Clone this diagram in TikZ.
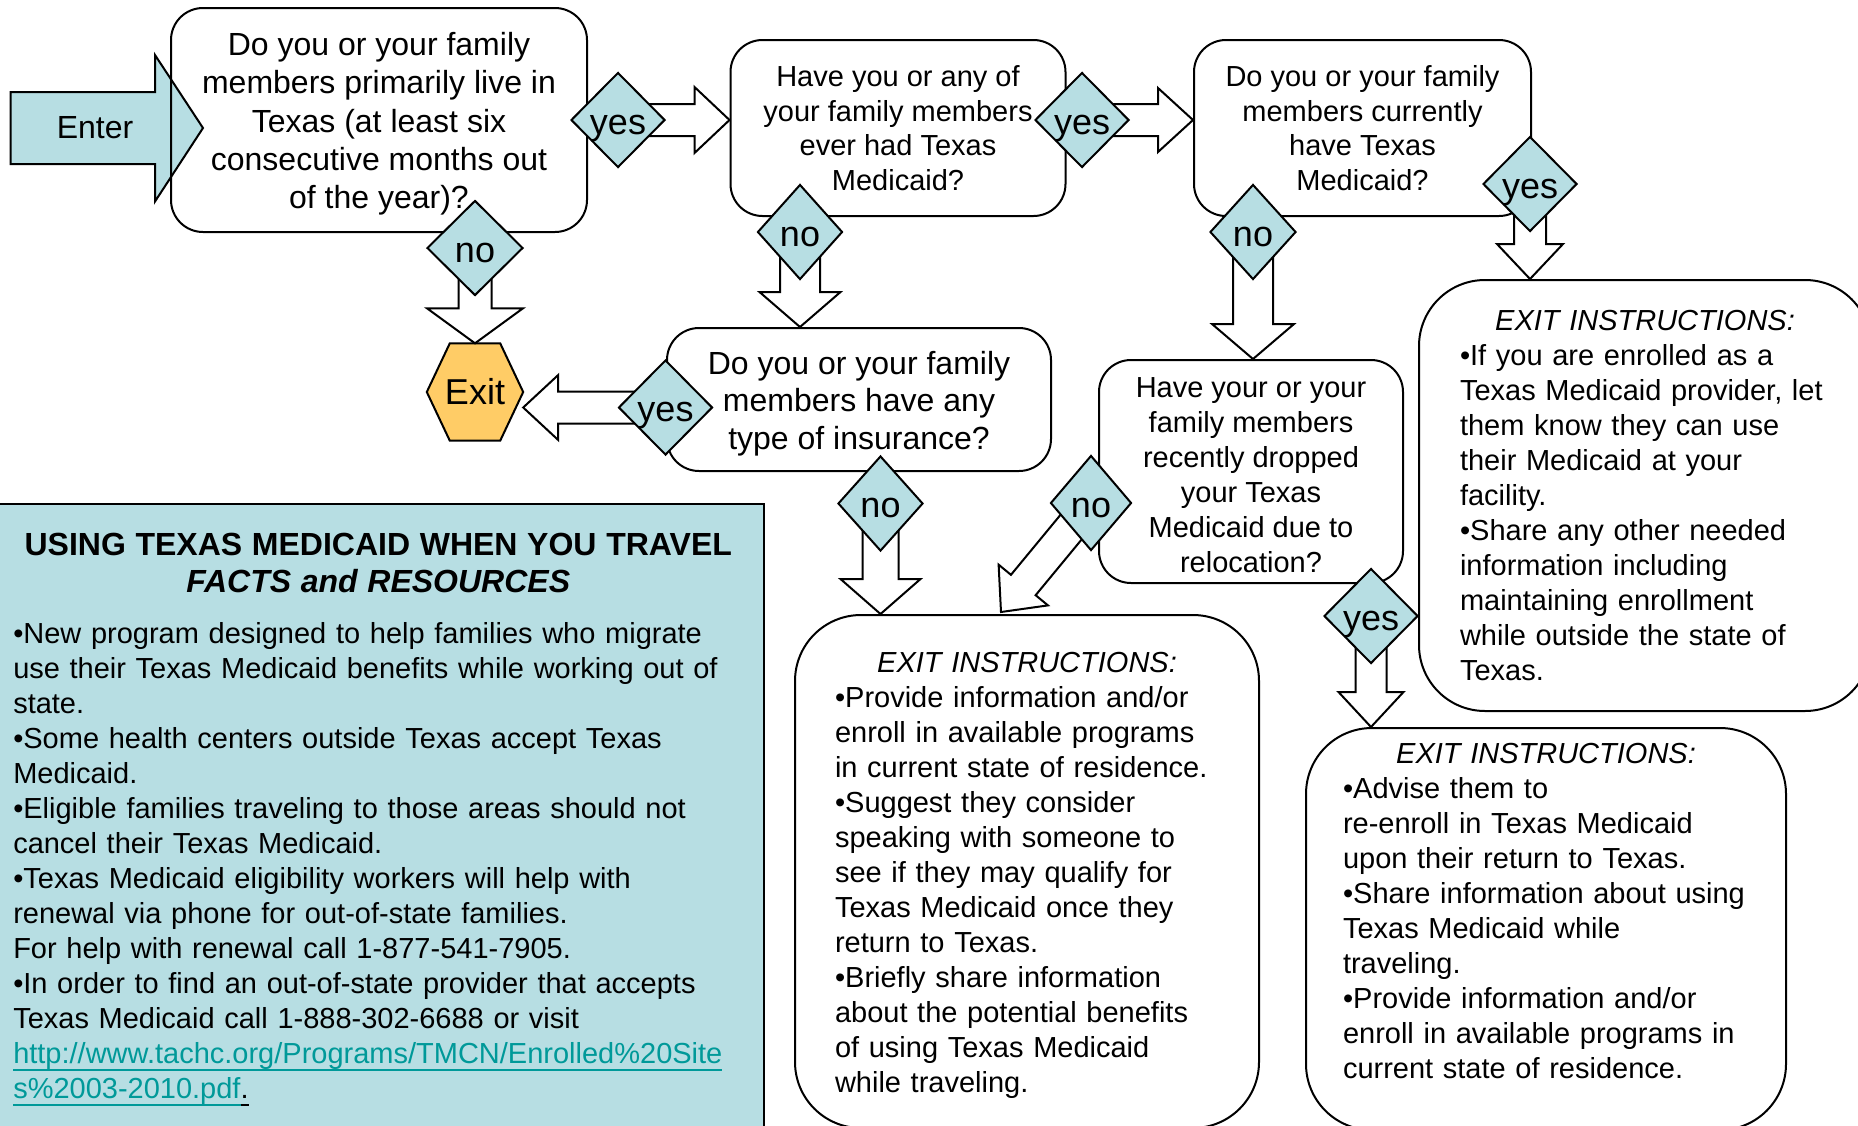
\documentclass[tikz,border=0pt]{standalone}
\usepackage{fontspec}
\setmainfont{Liberation Sans}
\usepackage{xcolor}
\definecolor{Aqua}{RGB}{183,222,227}
\definecolor{Gold}{RGB}{255,204,102}
\definecolor{Link}{RGB}{0,153,153}
\usepackage{tikz}
\usetikzlibrary{shapes.geometric}
\usetikzlibrary{calc}
\pgfdeclarelayer{back}
\pgfsetlayers{back,main}
\newcommand{\LinkLine}[1]{\leavevmode\setbox0=\hbox{#1}\rlap{\rule[-8pt]{\wd0}{2pt}}\box0}
\tikzstyle{Box}=[draw=black,line width=2pt,rounded corners=32pt,align=center,inner sep=0pt]
\tikzstyle{ExitBox}=[draw=black,line width=2pt,rounded corners=66pt,align=left,inner sep=0pt,
font=\fontsize{29}{35}\selectfont]
\tikzstyle{Facts}=[draw=black,line width=2pt,fill=Aqua,align=left,inner sep=0pt,
font=\fontsize{29}{35}\selectfont]
\tikzstyle{Choice}=[diamond,draw=black,line width=2pt,fill=Aqua,inner sep=0pt,
minimum width=94pt,minimum height=95pt,text height=31pt,text depth=3pt,
font=\fontsize{36}{40}\selectfont]
\tikzstyle{Edge}=[draw=black,line width=2pt,fill=white]
% block arrow: tail, tip, half shaft, half head
\newcommand{\BlockArrow}[4]{%
  \coordinate(hb)at($(#2)!35pt!(#1)$);
  \path[Edge]($(#1)!#3!90:(#2)$)--($(hb)!#3!-90:(#1)$)--($(hb)!#4!-90:(#1)$)--(#2)
    --($(hb)!#4!90:(#1)$)--($(hb)!#3!90:(#1)$)--($(#1)!#3!-90:(#2)$)--cycle;}
\begin{document}
\begin{tikzpicture}[x=1pt,y=-1pt]
        \useasboundingbox(0,0)rectangle(1858,1125);
        \clip(0,0)rectangle(1858,1125);
        \node[Facts,minimum width=771pt,minimum height=631.6pt,text width=730pt](facts)at(378.25,819.8){%
\makebox[\hsize]{\fontsize{32}{37.5}\selectfont\bfseries USING TEXAS MEDICAID WHEN YOU TRAVEL}\\[2.3pt]
\makebox[\hsize]{\fontsize{32}{37.5}\selectfont\bfseries\itshape FACTS and RESOURCES}\\[15.4pt]
•New program designed to help families who migrate\\
use their Texas Medicaid benefits while working out of\\
state.\\
•Some health centers outside Texas accept Texas\\
Medicaid.\\
•Eligible families traveling to those areas should not\\
cancel their Texas Medicaid.\\
•Texas Medicaid eligibility workers will help with\\
renewal via phone for out-of-state families.\\
For help with renewal call 1-877-541-7905.\\
•In order to find an out-of-state provider that accepts\\
Texas Medicaid call 1-888-302-6688 or visit\\
\textcolor{Link}{\LinkLine{http://www.tachc.org/Programs/TMCN/Enrolled\%20Site}}\\
\textcolor{Link}{\LinkLine{s\%2003-2010.pdf}}\LinkLine{.}};
        % entry arrow
        \draw[line width=2pt,fill=Aqua](10.5,92)--(155,92)--(155,55)--(203,128)--(155,201.5)--(155,164)--(10.5,164)--cycle;
        \node[font=\fontsize{32}{38}\selectfont,inner sep=0pt](enter)at(95,128){Enter};
        % questions
        \node[Box,minimum width=416pt,minimum height=224pt,font=\fontsize{32}{38.3}\selectfont](live)at(379,120){\rule{0pt}{31pt}Do you or your family\\members primarily live in\\Texas (at least six\\consecutive months out\\of the year)?};
        \node[Box,minimum width=335pt,minimum height=176pt,font=\fontsize{29}{34.6}\selectfont](hadmed)at(898,128){Have you or any of\\your family members\\ever had Texas\\Medicaid?};
        \node[Box,minimum width=337pt,minimum height=176pt,font=\fontsize{29}{34.6}\selectfont](hasmed)at(1362.5,128){Do you or your family\\members currently\\have Texas\\Medicaid?};
        \node[Box,minimum width=384pt,minimum height=143pt,font=\fontsize{32}{37.5}\selectfont](insured)at(859,399.5){\rule{0pt}{31pt}Do you or your family\\members have any\\type of insurance?};
        \node[Box,minimum width=304pt,minimum height=223pt,font=\fontsize{29}{35}\selectfont](dropped)at(1251,471.5){\rule{0pt}{27pt}Have your or your\\family members\\recently dropped\\your Texas\\Medicaid due to\\relocation?};
        % exit instructions
        \node[ExitBox,minimum width=464pt,minimum height=513pt,text width=384pt](otherstate)at(1027,871.5){\makebox[\hsize]{\rule{0pt}{27pt}\textit{EXIT INSTRUCTIONS:}}\\•Provide information and/or\\enroll in available programs\\in current state of residence.\\•Suggest they consider\\speaking with someone to\\see if they may qualify for\\Texas Medicaid once they\\return to Texas.\\•Briefly share information\\about the potential benefits\\of using Texas Medicaid\\while traveling.};
        \node[ExitBox,minimum width=452pt,minimum height=431pt,text width=370pt](provider)at(1645,495.5){\makebox[\hsize]{\textit{EXIT INSTRUCTIONS:}}\\•If you are enrolled as a\\Texas Medicaid provider, let\\them know they can use\\their Medicaid at your\\facility.\\•Share any other needed\\information including\\maintaining enrollment\\while outside the state of\\Texas.};
        \node[ExitBox,minimum width=480pt,minimum height=402pt,text width=406pt](reenroll)at(1546,929){\makebox[\hsize]{\textit{EXIT INSTRUCTIONS:}}\\•Advise them to\\re-enroll in Texas Medicaid\\upon their return to Texas.\\•Share information about using\\Texas Medicaid while\\traveling.\\•Provide information and/or\\enroll in available programs in\\current state of residence.\rule[-36pt]{0pt}{36pt}};
        % answers
        \node[Choice](liveyes)at(618,120){yes};
        \node[Choice,minimum width=96pt](liveno)at(475,248){no};
        \node[Choice](hadyes)at(1082,120){yes};
        \node[Choice,minimum width=85pt](hadno)at(800,232){no};
        \node[Choice](hasyes)at(1530,184){yes};
        \node[Choice,minimum width=86pt](hasno)at(1253,232){no};
        \node[Choice](insyes)at(665.5,407.5){yes};
        \node[Choice,minimum width=85pt](insno)at(880.5,503.5){no};
        \node[Choice,minimum width=81pt](dropno)at(1091,503){no};
        \node[Choice](dropyes)at(1371,616){yes};
        \node[font=\fontsize{36}{40}\selectfont,inner sep=0pt,minimum width=96pt,minimum height=97pt](exit)at(475,392){Exit};
        \coordinate(t1)at(liveyes-|hadmed.west);
        \coordinate(t2)at(hadyes-|hasmed.west);
        \coordinate(t3)at(liveno|-exit.north);
        \coordinate(t4)at(hadno|-insured.north);
        \coordinate(t5)at(insyes-|exit.east);
        \coordinate(t6)at(insno|-otherstate.north);
        \coordinate(t7)at(hasno|-dropped.north);
        \coordinate(t8)at(1001,612);
        \coordinate(t9)at(hasyes|-provider.north);
        \coordinate(t10)at(dropyes|-reenroll.north);
        \begin{pgfonlayer}{back}
        \draw[line width=2pt,fill=Gold]([xshift=23pt]exit.north west)--([xshift=-23pt]exit.north east)--(exit.east)
          --([xshift=-23pt]exit.south east)--([xshift=23pt]exit.south west)--(exit.west)--cycle;
        \BlockArrow{liveyes}{t1}{16pt}{33pt}
        \BlockArrow{hadyes}{t2}{16pt}{32pt}
        \BlockArrow{liveno}{t3}{16.5pt}{48pt}
        \BlockArrow{hadno}{t4}{20pt}{40.5pt}
        \BlockArrow{insyes}{t5}{16pt}{32.5pt}
        \BlockArrow{insno}{t6}{18pt}{40pt}
        \BlockArrow{hasno}{t7}{20pt}{41pt}
        \BlockArrow{dropno}{t8}{16pt}{32pt}
        \BlockArrow{hasyes}{t9}{16pt}{33pt}
        \BlockArrow{dropyes}{t10}{15.5pt}{32.5pt}
        \end{pgfonlayer}
\end{tikzpicture}
\end{document}
